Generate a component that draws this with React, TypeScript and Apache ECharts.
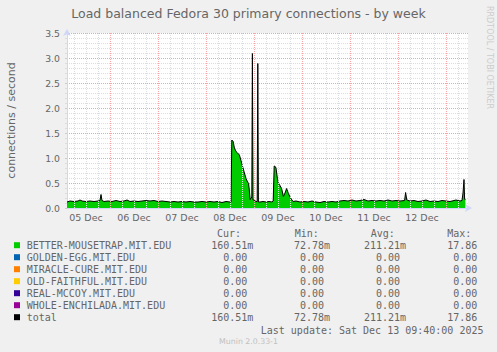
import React, { useEffect, useRef } from 'react';
import * as echarts from 'echarts';

// hours since 05 Dec 00:00
const hours = [
  2.5, 4, 6, 8, 9, 10, 12, 14, 16, 18, 19, 19.5, 20, 21, 23, 25, 27, 29, 31, 32.5,
  34, 36, 38, 40, 42, 44, 46, 48, 50, 52, 54, 56, 58, 60, 62, 64, 66, 68, 70, 72,
  74, 76, 78, 80, 82, 84, 84.5,
  84.9, 85.6, 86.2, 87, 87.8, 88.7, 89.5, 90.3, 91.2, 92, 92.8, 93.3, 93.8, 94.1, 94.9,
  95.2, 95.5, 96, 97, 97.6, 97.9, 98.2, 99, 100.5, 102, 103.5, 105, 105.6,
  106.1, 106.6, 107, 107.6, 108.2, 109, 109.8, 110.7, 111.5, 112.3, 113.2, 114.3, 115.5,
  117, 119, 121, 123, 125, 127, 129, 131, 133, 135, 137, 139, 141, 143, 145, 147, 149,
  151, 153, 155, 157, 159, 161, 163, 165, 167, 169, 171.3, 171.8, 172.4, 174, 176, 178,
  180, 182, 184, 186, 188, 190, 192, 194, 196, 197, 199, 200, 200.5, 201, 201.3, 201.7,
];
// connections / second
const rates = [
  0.12, 0.14, 0.13, 0.14, 0.16, 0.14, 0.13, 0.14, 0.13, 0.14, 0.15, 0.27, 0.15, 0.13, 0.14, 0.13, 0.15, 0.13, 0.14, 0.16,
  0.13, 0.14, 0.13, 0.14, 0.15, 0.14, 0.15, 0.13, 0.14, 0.13, 0.12, 0.13, 0.12, 0.13, 0.12, 0.13, 0.12, 0.12, 0.13, 0.12,
  0.13, 0.12, 0.13, 0.11, 0.13, 0.12, 0.12,
  1.36, 1.33, 1.2, 1.13, 1.1, 1.06, 0.95, 0.83, 0.7, 0.59, 0.52, 0.49, 0.3, 0.17, 0.22,
  3.09, 0.16, 0.16, 0.13, 0.13, 2.89, 0.12, 0.12, 0.13, 0.12, 0.13, 0.12, 0.14,
  0.84, 0.83, 0.8, 0.62, 0.49, 0.45, 0.39, 0.23, 0.3, 0.39, 0.29, 0.2, 0.13,
  0.14, 0.12, 0.13, 0.12, 0.14, 0.12, 0.11, 0.13, 0.12, 0.13, 0.12, 0.14, 0.15, 0.14, 0.16, 0.14, 0.15,
  0.17, 0.14, 0.15, 0.14, 0.15, 0.14, 0.16, 0.14, 0.15, 0.14, 0.15, 0.31, 0.16, 0.14, 0.15, 0.13,
  0.14, 0.16, 0.13, 0.14, 0.13, 0.15, 0.14, 0.13, 0.15, 0.16, 0.14, 0.15, 0.3, 0.57, 0.18, 0.16,
];

const dayLabelHours = [12, 36, 60, 84, 108, 132, 156, 180];
const dayLabels = ['05 Dec', '06 Dec', '07 Dec', '08 Dec', '09 Dec', '10 Dec', '11 Dec', '12 Dec'];
const majorXLines = [24, 48, 72, 96, 120, 144, 168, 192];
const minorXLines = [6, 12, 18, 30, 36, 42, 54, 60, 66, 78, 84, 90, 102, 108, 114, 126, 132, 138, 150, 156, 162, 174, 180, 186, 198];

const hosts = [
  'BETTER-MOUSETRAP.MIT.EDU',
  'GOLDEN-EGG.MIT.EDU',
  'MIRACLE-CURE.MIT.EDU',
  'OLD-FAITHFUL.MIT.EDU',
  'REAL-MCCOY.MIT.EDU',
  'WHOLE-ENCHILADA.MIT.EDU',
  'total',
];
const hostColors = ['#00cc00', '#0066b3', '#ff8000', '#ffcc00', '#330099', '#990099', '#000000'];
const curVals = ['160.51m', '0.00', '0.00', '0.00', '0.00', '0.00', '160.51m'];
const minVals = ['72.78m', '0.00', '0.00', '0.00', '0.00', '0.00', '72.78m'];
const avgVals = ['211.21m', '0.00', '0.00', '0.00', '0.00', '0.00', '211.21m'];
const maxVals = ['17.86', '0.00', '0.00', '0.00', '0.00', '0.00', '17.86'];
const columnHeaders = ['Cur:', 'Min:', 'Avg:', 'Max:'];

const TITLE = 'Load balanced Fedora 30 primary connections - by week';
const LAST_UPDATE = 'Last update: Sat Dec 13 09:40:00 2025';

export default function App() {
  const ref = useRef<HTMLDivElement>(null);

  useEffect(() => {
    if (!ref.current) return;
    const chart = echarts.init(ref.current, undefined, { renderer: 'svg' });
    const data = hours.map((h, i) => [h, rates[i]]);

    const mono = 'DejaVu Sans Mono';
    const fontColor = '#666666';
    const legendFont = 10;
    const rowY0 = 245.7;
    const rowStep = 12;
    const numRight = [247.3, 324, 400, 477.3];
    const headerLeft = [217, 294.7, 370.7, 447.3];
    const cols = [curVals, minVals, avgVals, maxVals];

    const graphics: any[] = [];
    columnHeaders.forEach((h, c) => {
      graphics.push({
        type: 'text', x: headerLeft[c], y: 233.3,
        style: { text: h, fill: fontColor, fontSize: legendFont, fontFamily: mono, textAlign: 'left', textVerticalAlign: 'middle' },
      });
    });
    hosts.forEach((name, i) => {
      const y = rowY0 + i * rowStep;
      graphics.push({
        type: 'rect', shape: { x: 14, y: y - 3.5, width: 6, height: 6 },
        style: { fill: hostColors[i] },
      });
      graphics.push({
        type: 'text', x: 26.7, y,
        style: { text: name, fill: fontColor, fontSize: legendFont, fontFamily: mono, textAlign: 'left', textVerticalAlign: 'middle' },
      });
      cols.forEach((col, c) => {
        const m = col[i].match(/^([\d.]+)(\D*)$/);
        const num = m ? m[1] : col[i];
        const suf = m ? m[2] : '';
        graphics.push({
          type: 'text', x: numRight[c], y,
          style: { text: num, fill: fontColor, fontSize: legendFont, fontFamily: mono, textAlign: 'right', textVerticalAlign: 'middle' },
        });
        if (suf) {
          graphics.push({
            type: 'text', x: numRight[c], y,
            style: { text: suf, fill: fontColor, fontSize: legendFont, fontFamily: mono, textAlign: 'left', textVerticalAlign: 'middle' },
          });
        }
      });
    });
    graphics.push({
      type: 'text', x: 483.5, y: 330,
      style: { text: LAST_UPDATE, fill: fontColor, fontSize: legendFont, fontFamily: mono, textAlign: 'right', textVerticalAlign: 'middle' },
    });
    graphics.push({
      type: 'text', x: 248.5, y: 341.7,
      style: { text: 'Munin 2.0.33-1', fill: '#c0c0c0', fontSize: 7.8, fontFamily: 'DejaVu Sans', textAlign: 'center', textVerticalAlign: 'middle' },
    });
    graphics.push({
      type: 'text', x: 489, y: 57.5, rotation: -Math.PI / 2,
      style: { text: 'RRDTOOL / TOBI OETIKER', fill: '#cccccc', fontSize: 8, fontFamily: 'DejaVu Sans', textAlign: 'center', textVerticalAlign: 'middle' },
    });

    const gridLine = (value: number, color: string) => ({
      xAxis: value,
      lineStyle: { color, type: [1, 1], width: 1 },
    });

    chart.setOption({
      animation: false,
      backgroundColor: '#f0f0f0',
      title: {
        text: TITLE,
        left: 'center',
        top: 2,
        textStyle: { color: fontColor, fontSize: 12.5, fontWeight: 'normal', fontFamily: 'DejaVu Sans' },
      },
      grid: {
        left: 67, top: 33, width: 401, height: 175,
        containLabel: false,
        outerBoundsMode: 'none',
        show: true, backgroundColor: '#ffffff', borderWidth: 0,
      },
      xAxis: {
        type: 'value', min: 2.5, max: 203,
        axisLine: {
          show: true, onZero: false,
          lineStyle: { color: '#cfd6f8' },
          symbol: ['none', 'arrow'], symbolSize: [6, 7], symbolOffset: [0, 4],
        },
        axisTick: { show: false },
        splitLine: { show: false },
        axisLabel: {
          customValues: dayLabelHours,
          formatter: (v: number) => {
            const idx = dayLabelHours.indexOf(v);
            return idx >= 0 ? dayLabels[idx] : '';
          },
          color: fontColor, fontSize: 9.5, fontFamily: 'DejaVu Sans', margin: 4,
        },
      },
      yAxis: {
        type: 'value', min: 0, max: 3.5, interval: 0.5,
        axisLine: {
          show: true,
          lineStyle: { color: '#cfd6f8' },
          symbol: ['none', 'arrow'], symbolSize: [6, 7], symbolOffset: [0, 4],
        },
        axisTick: { show: true, length: 2, lineStyle: { color: '#cccccc' } },
        minorTick: { show: true, splitNumber: 5, length: 2, lineStyle: { color: '#dddddd' } },
        axisLabel: {
          color: fontColor, fontSize: 9.3, fontFamily: 'DejaVu Sans', margin: 7,
          formatter: (v: number) => v.toFixed(1),
        },
        splitLine: { show: true, lineStyle: { color: '#f4a4a4', type: [1, 1], width: 1 } },
        minorSplitLine: { show: true, lineStyle: { color: '#dddddd', type: [1, 1], width: 1 } },
        name: 'connections / second',
        nameLocation: 'middle',
        nameGap: 50,
        nameRotate: 90,
        nameTextStyle: { color: fontColor, fontSize: 11, fontFamily: 'DejaVu Sans' },
      },
      series: [
        {
          type: 'line',
          data,
          z: 1,
          symbol: 'none',
          silent: true,
          lineStyle: { opacity: 0, width: 0 },
          markLine: {
            silent: true,
            symbol: ['none', 'none'],
            label: { show: false },
            animation: false,
            data: [
              ...minorXLines.map((v) => gridLine(v, '#dddddd')),
              ...majorXLines.map((v) => gridLine(v, '#f4a4a4')),
            ],
          },
        },
        {
          name: hosts[0],
          type: 'line',
          data,
          z: 2,
          symbol: 'none',
          silent: true,
          lineStyle: { width: 0, opacity: 0 },
          areaStyle: { color: hostColors[0], opacity: 1 },
        },
        {
          name: 'total',
          type: 'line',
          data,
          z: 3,
          symbol: 'none',
          silent: true,
          lineStyle: { color: '#000000', width: 1 },
        },
      ],
      graphic: graphics,
    });

    return () => chart.dispose();
  }, []);

  return (
    <div
      ref={ref}
      style={{ position: 'fixed', left: 0, top: 0, width: 497, height: 352 }}
    />
  );
}
